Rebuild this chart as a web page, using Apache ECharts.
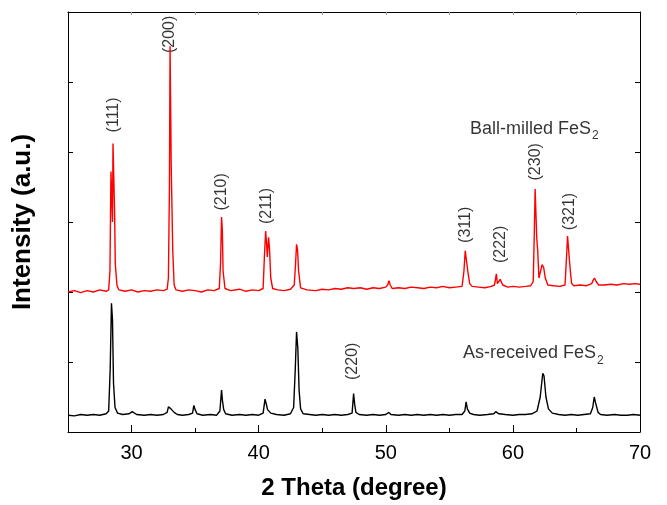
<!DOCTYPE html>
<html>
<head>
<meta charset="utf-8">
<script src="https://cdn.jsdelivr.net/npm/echarts@6/dist/echarts.min.js"></script>
<style>
  html, body { margin: 0; padding: 0; background: #fff; }
  #main { width: 667px; height: 505px; }
</style>
</head>
<body>
<div id="main"></div>
<script>
// 2 theta, intensity (offset, a.u.)
var ballMilled = [
  [25.0,2.00],[25.5,2.02],[26.0,1.99],[26.5,2.02],[27.0,2.00],[27.5,2.03],[28.0,2.01],
  [28.2,2.03],[28.3,2.3],[28.38,3.72],[28.44,3.72],[28.5,3.0],[28.54,4.12],[28.6,4.12],[28.66,3.2],[28.72,2.4],[28.85,2.1],[29.0,2.03],
  [29.5,2.01],[30.0,2.03],[30.5,2.00],[31.0,2.02],[31.5,2.01],[32.0,2.03],[32.5,2.02],[32.8,2.04],
  [32.9,2.2],[32.98,3.5],[33.03,5.51],[33.08,5.51],[33.12,3.8],[33.18,3.8],[33.24,2.6],[33.35,2.1],[33.5,2.03],
  [34.0,2.01],[34.5,2.03],[35.0,2.02],[35.5,2.00],[36.0,2.03],[36.5,2.02],[36.9,2.05],
  [37.0,2.4],[37.08,3.07],[37.14,2.9],[37.2,2.3],[37.35,2.05],
  [37.8,2.02],[38.5,2.04],[39.0,2.01],[39.5,2.03],[40.0,2.02],[40.35,2.05],
  [40.45,2.5],[40.55,2.87],[40.62,2.7],[40.68,2.5],[40.78,2.78],[40.86,2.6],[40.95,2.2],[41.1,2.05],
  [41.5,2.03],[42.0,2.02],[42.5,2.04],[42.8,2.1],
  [42.9,2.4],[42.98,2.68],[43.06,2.6],[43.14,2.3],[43.3,2.06],
  [43.8,2.03],[44.5,2.02],[45.0,2.04],[45.5,2.03],[46.0,2.05],[46.5,2.04],[47.0,2.06],[47.5,2.05],[48.0,2.06],[48.5,2.04],[49.0,2.06],[49.5,2.05],[50.0,2.07],
  [50.15,2.1],[50.25,2.16],[50.35,2.1],[50.5,2.05],
  [51.0,2.06],[51.5,2.05],[52.0,2.07],[52.5,2.06],[53.0,2.05],[53.5,2.07],[54.0,2.06],[54.5,2.08],[55.0,2.06],[55.5,2.07],[56.0,2.08],
  [56.15,2.3],[56.25,2.59],[56.35,2.58],[56.45,2.3],[56.6,2.12],[56.8,2.08],
  [57.3,2.07],[57.8,2.06],[58.3,2.08],[58.55,2.1],
  [58.65,2.2],[58.7,2.26],[58.78,2.12],[58.9,2.1],[59.0,2.18],[59.1,2.2],[59.2,2.1],
  [59.6,2.07],[60.0,2.08],[60.5,2.07],[61.0,2.08],[61.4,2.09],[61.6,2.15],
  [61.68,2.8],[61.75,3.47],[61.82,3.47],[61.88,2.76],[61.95,2.6],[62.05,2.2],[62.15,2.2],[62.3,2.39],[62.42,2.35],[62.55,2.2],[62.75,2.1],
  [63.2,2.09],[63.7,2.08],[64.1,2.1],
  [64.22,2.5],[64.3,2.8],[64.38,2.8],[64.45,2.45],[64.52,2.3],[64.62,2.12],[64.8,2.09],
  [65.3,2.1],[65.8,2.09],[66.2,2.12],
  [66.32,2.17],[66.42,2.2],[66.55,2.15],[66.75,2.1],
  [67.2,2.1],[67.7,2.11],[68.2,2.1],[68.7,2.12],[69.2,2.11],[69.6,2.12],[70.0,2.11]
];

var asReceived = [
  [25.0,0.24],[25.5,0.23],[26.0,0.25],[26.5,0.24],[27.0,0.25],[27.5,0.24],[28.0,0.26],
  [28.2,0.3],[28.32,0.9],[28.42,1.84],[28.5,1.6],[28.58,0.7],[28.7,0.35],[28.9,0.27],
  [29.3,0.25],[29.8,0.26],[30.05,0.29],[30.15,0.28],[30.4,0.25],[31.0,0.24],[31.5,0.25],[32.0,0.24],[32.5,0.25],[32.8,0.28],
  [32.9,0.36],[33.0,0.34],[33.1,0.33],[33.2,0.34],[33.35,0.28],[33.6,0.25],
  [34.0,0.24],[34.5,0.25],[34.8,0.27],[34.9,0.38],[35.0,0.32],[35.15,0.26],
  [35.6,0.24],[36.2,0.25],[36.7,0.24],[36.95,0.3],[37.08,0.6],[37.15,0.45],[37.25,0.32],[37.4,0.26],
  [37.9,0.24],[38.5,0.25],[39.0,0.24],[39.5,0.25],[40.0,0.24],[40.35,0.27],[40.5,0.47],[40.6,0.4],[40.7,0.32],[40.8,0.33],[40.95,0.27],
  [41.4,0.25],[42.0,0.24],[42.5,0.26],[42.75,0.35],[42.88,0.9],[42.98,1.43],[43.08,1.2],[43.18,0.6],[43.3,0.33],[43.5,0.26],
  [44.0,0.25],[44.5,0.24],[45.0,0.25],[45.5,0.24],[46.0,0.25],[46.5,0.24],[47.0,0.25],[47.35,0.27],[47.47,0.55],[47.55,0.4],[47.65,0.28],[47.9,0.25],
  [48.5,0.24],[49.0,0.25],[49.5,0.24],[50.0,0.25],[50.15,0.27],[50.25,0.28],[50.4,0.25],
  [51.0,0.24],[51.5,0.25],[52.0,0.24],[52.5,0.25],[53.0,0.24],[53.5,0.25],[54.0,0.24],[54.5,0.25],[55.0,0.24],[55.5,0.25],[56.0,0.25],
  [56.22,0.3],[56.32,0.43],[56.42,0.33],[56.6,0.27],[56.9,0.25],
  [57.4,0.24],[58.0,0.25],[58.5,0.26],[58.65,0.29],[58.75,0.28],[58.9,0.26],
  [59.4,0.25],[60.0,0.24],[60.5,0.25],[61.0,0.25],[61.5,0.26],[61.9,0.3],[62.15,0.5],[62.35,0.84],[62.45,0.8],[62.6,0.5],[62.8,0.33],[63.1,0.27],
  [63.6,0.25],[64.1,0.24],[64.6,0.25],[65.1,0.24],[65.6,0.25],[66.1,0.26],[66.28,0.35],[66.4,0.5],[66.5,0.42],[66.6,0.35],[66.7,0.28],[66.9,0.25],
  [67.4,0.24],[68.0,0.25],[68.5,0.24],[69.0,0.24],[69.5,0.25],[70.0,0.24]
];

// peak index labels: [2theta, y, text]
var peakLabels = [
  [28.55, 4.53, '(111)'],
  [33.0, 5.68, '(200)'],
  [37.1, 3.43, '(210)'],
  [40.6, 3.23, '(211)'],
  [56.3, 2.96, '(311)'],
  [59.0, 2.68, '(222)'],
  [61.75, 3.86, '(230)'],
  [64.5, 3.15, '(321)'],
  [47.4, 1.01, '(220)']
];

var sampleLabels = [
  [56.63, 4.33, 'Ball-milled FeS', '2'],
  [56.08, 1.125, 'As-received FeS', '2']
];

var majorTicks = [30, 40, 50, 60, 70];
var minorTicks = [35, 45, 55, 65];
var topTicks = [30, 35, 40, 45, 50, 55, 60, 65];

var font = 'Liberation Sans, Arial, Helvetica, sans-serif';

var chart = echarts.init(document.getElementById('main'));
var option = {
  animation: false,
  backgroundColor: '#fff',
  grid: { left: 68, right: 27, top: 12, bottom: 73, containLabel: false, outerBoundsMode: 'none' },
  xAxis: [
    {
      type: 'value', min: 25, max: 70, position: 'bottom',
      name: '2 Theta (degree)', nameLocation: 'middle', nameGap: 44,
      nameTextStyle: { fontFamily: font, fontSize: 24, fontWeight: 'bold', color: '#000' },
      axisLine: { show: true, onZero: false, lineStyle: { color: '#000', width: 1 } },
      axisTick: { show: true, inside: true, length: 7, customValues: majorTicks, lineStyle: { color: '#000' } },
      axisLabel: { show: true, customValues: majorTicks, fontFamily: font, fontSize: 20, color: '#000', margin: 11 },
      splitLine: { show: false }
    },
    {
      type: 'value', min: 25, max: 70, position: 'bottom',
      axisLine: { show: false },
      axisTick: { show: true, inside: true, length: 4, customValues: minorTicks, lineStyle: { color: '#000' } },
      axisLabel: { show: false },
      splitLine: { show: false }
    },
    {
      type: 'value', min: 25, max: 70, position: 'top',
      axisLine: { show: true, onZero: false, lineStyle: { color: '#000', width: 1 } },
      axisTick: { show: true, inside: true, length: 3, customValues: topTicks, lineStyle: { color: '#999' } },
      axisLabel: { show: false },
      splitLine: { show: false }
    }
  ],
  yAxis: [
    {
      type: 'value', min: 0, max: 6, interval: 1, position: 'left',
      name: 'Intensity (a.u.)', nameLocation: 'middle', nameGap: 32,
      nameTextStyle: { fontFamily: font, fontSize: 26, fontWeight: 'bold', color: '#000' },
      axisLine: { show: true, onZero: false, lineStyle: { color: '#000', width: 1 } },
      axisTick: { show: true, inside: true, length: 5, lineStyle: { color: '#000' } },
      axisLabel: { show: false },
      splitLine: { show: false }
    },
    {
      type: 'value', min: 0, max: 6, interval: 1, position: 'right',
      axisLine: { show: true, onZero: false, lineStyle: { color: '#000', width: 1 } },
      axisTick: { show: true, inside: true, length: 5, lineStyle: { color: '#000' } },
      axisLabel: { show: false },
      splitLine: { show: false }
    }
  ],
  series: [
    {
      name: 'Ball-milled', type: 'line', data: ballMilled, showSymbol: false,
      lineStyle: { color: '#ff0000', width: 1.4 }, itemStyle: { color: '#ff0000' }
    },
    {
      name: 'As-received', type: 'line', data: asReceived, showSymbol: false,
      lineStyle: { color: '#000', width: 1.4 }, itemStyle: { color: '#000' }
    },
    {
      type: 'scatter', data: peakLabels, symbolSize: 0, silent: true,
      label: {
        show: true, position: 'inside', rotate: 90,
        fontFamily: font, fontSize: 16, color: '#000', textBorderWidth: 0,
        formatter: function (p) { return p.value[2]; }
      }
    },
    {
      type: 'scatter', data: sampleLabels, symbolSize: 0, silent: true,
      label: {
        show: true, position: 'right', distance: 0,
        formatter: function (p) { return '{a|' + p.value[2] + '}{s|' + p.value[3] + '}'; },
        rich: {
          a: { fontFamily: font, fontSize: 18, color: '#000' },
          s: { fontFamily: font, fontSize: 12, color: '#000', padding: [14, 0, 0, 1] }
        }
      }
    }
  ]
};
chart.setOption(option);
</script>
</body>
</html>
